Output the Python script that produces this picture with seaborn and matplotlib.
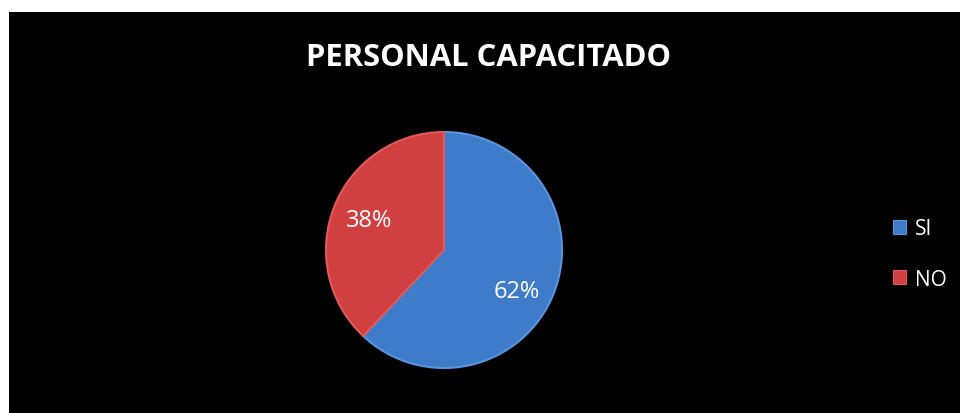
import matplotlib
matplotlib.use("Agg")
import matplotlib.pyplot as plt
from matplotlib.patches import Rectangle, Patch
import seaborn as sns

# Data
categories = ["SI", "NO"]
shares = [62, 38]
title = "PERSONAL CAPACITADO"

sns.set_theme(style="white")
plt.rcParams["font.family"] = ["Open Sans", "DejaVu Sans"]

colors = ["#3e7bc8", "#d04040"]
edge_colors = ["#5a95e0", "#e25a58"]

W, H = 960, 414
fig = plt.figure(figsize=(W / 100, H / 100), dpi=100)
fig.patch.set_facecolor("white")

# black chart area with a thin white margin at top and left
fig.patches.append(Rectangle((9 / W, 0), (W - 9) / W, (H - 13) / H,
                             transform=fig.transFigure, facecolor="black",
                             edgecolor="none", zorder=-10))

cx, cy, r = 444, 251, 118
ax = fig.add_axes([(cx - r) / W, (H - cy - r) / H, 2 * r / W, 2 * r / H])
ax.set_facecolor("none")
ax.set_zorder(1)

wedges, texts, autotexts = ax.pie(
    shares, colors=colors, startangle=90, counterclock=False,
    autopct=lambda p: f"{p:.0f}%", pctdistance=0.68,
    wedgeprops=dict(linewidth=1.5),
    textprops=dict(color="white", fontsize=17),
)
for w, ec in zip(wedges, edge_colors):
    w.set_edgecolor(ec)
# nudge the larger slice's label a little lower inside its wedge
x0, y0 = autotexts[0].get_position()
autotexts[0].set_position((x0 * 0.97, y0 * 1.4))
ax.set_xlim(-1, 1)
ax.set_ylim(-1, 1)
ax.axis("off")

fig.text(488 / W, 1 - 58 / H, title, ha="center", va="center",
         color="white", fontsize=22.3, fontweight="bold", zorder=2)

handles = [Patch(facecolor=c, edgecolor=e, linewidth=0.8) for c, e in zip(colors, edge_colors)]
leg = fig.legend(handles, categories, loc="center left",
                 bbox_to_anchor=(874 / W, 1 - 255 / H), frameon=False,
                 fontsize=15, labelcolor="white", handlelength=0.65,
                 handleheight=0.65, handletextpad=0.4, labelspacing=1.4)
leg.set_zorder(2)

fig.savefig("out.png", dpi=100, facecolor=fig.get_facecolor())
